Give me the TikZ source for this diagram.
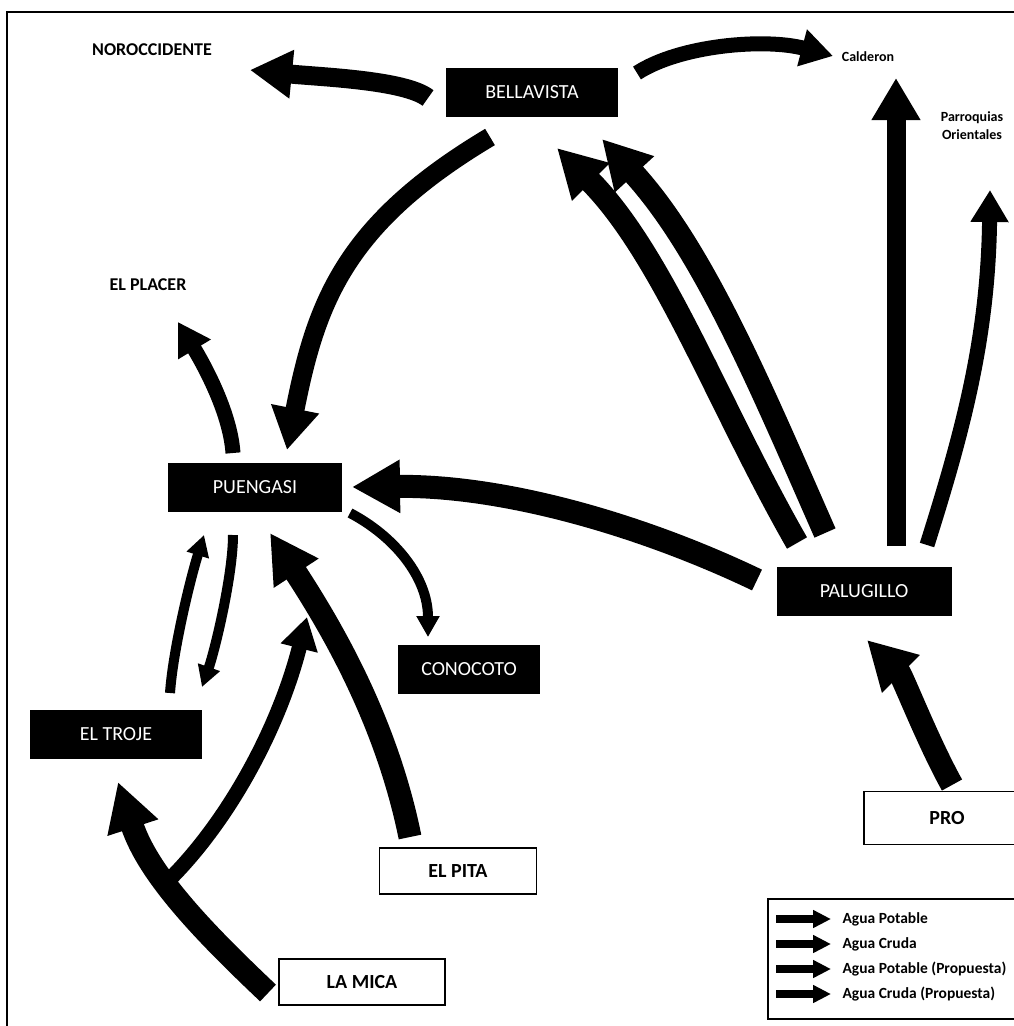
\documentclass[tikz,border=0pt]{standalone}
\usepackage{fontspec}
\setmainfont{Carlito}
\usetikzlibrary{arrows.meta, positioning}

\begin{document}
\begin{tikzpicture}[x=1pt, y=1pt]
    \tikzstyle{plant} = [rectangle, fill=black, text=white, minimum height=49pt, font=\fontsize{20}{22}\selectfont]
    \tikzstyle{source} = [rectangle, draw, line width=1.5pt, fill=white, minimum height=46pt, font=\fontsize{20}{22}\selectfont\bfseries]
    \tikzstyle{place} = [font=\fontsize{18}{20}\selectfont\bfseries]
    \tikzstyle{smallplace} = [font=\fontsize{14}{18}\selectfont\bfseries, align=center]
    \tikzstyle{legtext} = [font=\fontsize{15.5}{17}\selectfont\bfseries, anchor=west]
    \tikzstyle{flowxl} = [draw, line width=23pt, -{Triangle[width=50pt, length=48pt]}]
    \tikzstyle{flowl} = [draw, line width=19pt, -{Triangle[width=46pt, length=42pt]}]
    \tikzstyle{flowm} = [draw, line width=15pt, -{Triangle[width=36pt, length=32pt]}]
    \tikzstyle{flows} = [draw, line width=10pt, -{Triangle[width=22pt, length=21pt]}]
    \tikzstyle{legarrow} = [draw, line width=8pt, -{Triangle[width=17pt, length=18pt]}]

    \useasboundingbox (0,0) rectangle (1014,-1026);
    \draw[line width=2pt] (7,-12) rectangle (1040,-1045);

    % plants
    \node[plant, minimum width=172pt] (bellavista) at (532,-92) {BELLAVISTA};
    \node[plant, minimum width=174pt] (puengasi) at (255,-487) {PUENGASI};
    \node[plant, minimum width=175pt] (palugillo) at (864,-591) {PALUGILLO};
    \node[plant, minimum width=142pt] (conocoto) at (469,-669) {CONOCOTO};
    \node[plant, minimum width=172pt] (eltroje) at (116,-734) {EL TROJE};

    % sources
    \node[source, minimum width=157pt] (elpita) at (458,-871) {EL PITA};
    \node[source, minimum width=166pt] (lamica) at (362,-982) {LA MICA};
    \node[source, minimum width=166pt, minimum height=53pt] (pro) at (947,-818) {PRO};

    % zones
    \node[place] (noroccidente) at (152,-50) {NOROCCIDENTE};
    \node[place] (elplacer) at (148,-285) {EL PLACER};
    \node[smallplace] (calderon) at (868,-57) {Calderon};
    \node[smallplace] (parroquias) at (972,-126) {Parroquias\\Orientales};

    % flows from Bellavista
    \draw[flowl] ([shift={(-104,-6)}]bellavista.center) .. controls (405,-80) and (320,-77) .. ([shift={(98,-20)}]noroccidente.center);
    \draw[flowm] ([shift={(105,19)}]bellavista.center) .. controls (680,-45) and (765,-38) .. ([shift={(-35,1)}]calderon.center);
    \draw[flowl] ([shift={(-42,-45)}]bellavista.center) .. controls (344,-224) and (316,-303) .. ([shift={(32,37)}]puengasi.center);

    % flows from Palugillo
    \draw[flowxl] ([shift={(-67,48)}]palugillo.center) .. controls (718,-405) and (663,-254) .. ([shift={(25,-56)}]bellavista.center);
    \draw[flowxl] ([shift={(-39,58)}]palugillo.center) .. controls (762,-390) and (704,-250) .. ([shift={(70,-47)}]bellavista.center);
    \draw[flowl] ([shift={(32,45)}]palugillo.center) -- ([shift={(28,-21)}]calderon.center);
    \draw[flowm] ([shift={(63,46)}]palugillo.center) .. controls (963,-431) and (988,-338) .. ([shift={(18,-64)}]parroquias.center);
    \draw[flowxl] ([shift={(-107,11)}]palugillo.center) .. controls (640,-524) and (502,-485) .. ([shift={(97,0)}]puengasi.center);

    % flows around Puengasi
    \draw[flowm] ([shift={(-22,34)}]puengasi.center) .. controls (230,-410) and (201,-360) .. ([shift={(30,-37)}]elplacer.center);
    \draw[flows] ([shift={(95,-26)}]puengasi.center) .. controls (394,-536) and (428,-577) .. ([shift={(-41,32)}]conocoto.center);
    \draw[flows] ([shift={(-22,-48)}]puengasi.center) .. controls (233,-575) and (215,-650) .. ([shift={(86,47)}]eltroje.center);
    \draw[flows] ([shift={(54,41)}]eltroje.center) .. controls (173,-650) and (190,-580) .. ([shift={(-51,-48)}]puengasi.center);

    % raw water
    \draw[flowxl] ([shift={(-48,34)}]elpita.center) .. controls (386,-719) and (330,-625) .. ([shift={(15,-46)}]puengasi.center);
    \draw[flowxl] ([shift={(-94,-11)}]lamica.center) .. controls (210,-938) and (149,-877) .. ([shift={(2,-48)}]eltroje.center) coordinate[pos=0.6] (fork);
    \draw[flowm] (fork) .. controls (231,-819) and (280,-724) .. ([shift={(52,-130)}]puengasi.center);
    \draw[flowxl] ([shift={(5,33)}]pro.center) .. controls (928,-742) and (902,-675) .. ([shift={(3,-49)}]palugillo.center);

    % legend
    \draw[line width=1.5pt] (768,-899) rectangle (1040,-1019);
    \foreach \lbl [count=\i] in {Agua Potable, Agua Cruda, Agua Potable (Propuesta), Agua Cruda (Propuesta)} {
        \node[legtext] (leg\i) at (839,{-919-25*(\i-1)}) {\lbl};
        \draw[legarrow] ([xshift=-63pt]leg\i.west) -- ([xshift=-8pt]leg\i.west);
    }
\end{tikzpicture}
\end{document}
